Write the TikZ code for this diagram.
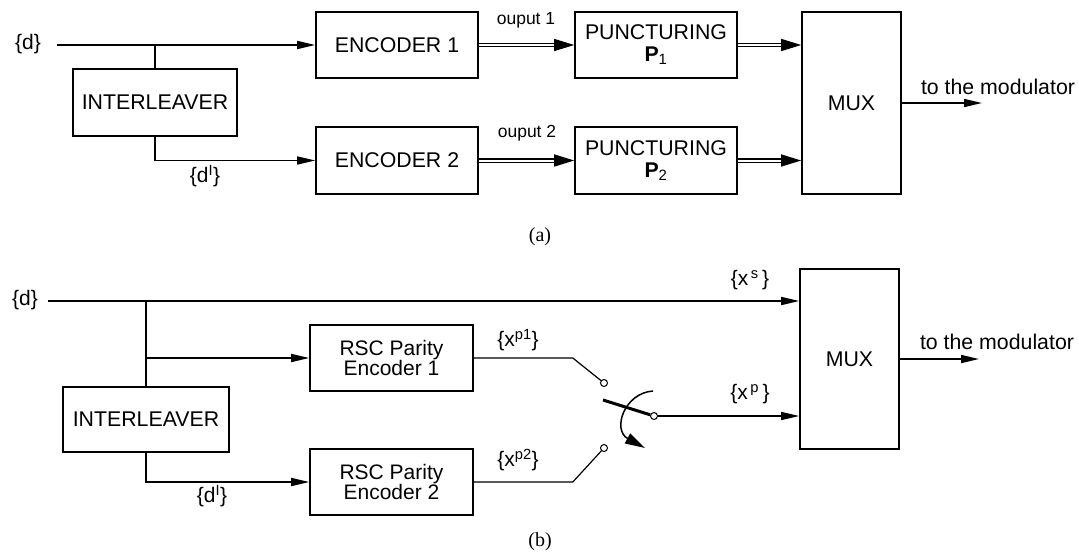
\documentclass[tikz,border=0pt]{standalone}
\usepackage{fontspec}
\setmainfont{Liberation Sans}
\newfontfamily\capfont{Liberation Serif}
\usetikzlibrary{arrows.meta,positioning}

\begin{document}
\begin{tikzpicture}[x=1pt,y=-1pt,>={Triangle[length=18pt,width=8pt]},line width=1.6pt,
    block/.style={draw,line width=1.6pt,align=center,inner sep=0pt,
                  font=\fontsize{21.3}{22}\selectfont},
    lbl/.style={inner sep=0pt,font=\fontsize{21}{22}\selectfont},
    small/.style={inner sep=0pt,font=\fontsize{17.5}{20}\selectfont},
    dbl/.style={double,double distance=2pt,line width=1.3pt,
                -{Triangle[length=20pt,width=12pt]}},
    contact/.style={circle,draw,line width=1pt,fill=white,inner sep=0pt,minimum size=7pt}]

        \useasboundingbox (0,0) rectangle (1079,552);

        % (a)
        \node[lbl] (d1) at (28,44) {\{d\}};
        \coordinate (in1) at (57,45);
        \node[block,minimum width=164pt,minimum height=67pt] (inter1) at (155,102.5) {INTERLEAVER};
        \node[block,minimum width=162pt,minimum height=66pt] (enc1) at (397,45) {ENCODER 1};
        \node[block,minimum width=162pt,minimum height=67pt] (enc2) at (397,160.5) {ENCODER 2};
        \node[block,minimum width=162pt,minimum height=66pt] (punc1) at (656,45) {PUNCTURING\\\textbf{P}\textsubscript{1}};
        \node[block,minimum width=162pt,minimum height=67pt] (punc2) at (656,160.5) {PUNCTURING\\\textbf{P}\textsubscript{2}};
        \node[block,minimum width=99pt,minimum height=182pt] (mux1) at (851.5,103) {MUX};
        \coordinate (out1) at (982,103);

        \draw[->] (in1) -- (enc1);
        \draw (inter1.north) -- (inter1.north |- in1);
        \draw[->] (inter1.south) |- (enc2.west);
        \node[lbl] (dI1) at (205,176) {\{d\textsuperscript{I}\}};
        \draw[dbl] (enc1) -- (punc1);
        \draw[dbl] (enc2) -- (punc2);
        \node[small] (o1) at (526,20) {ouput 1};
        \node[small] (o2) at (527,133) {ouput 2};
        \draw[dbl] (punc1.east) -- (punc1.east -| mux1.west);
        \draw[dbl] (punc2.east) -- (punc2.east -| mux1.west);
        \draw[->] (mux1.east) -- (out1);
        \node[block,draw=none] (mod1) at (998,87) {to the modulator};
        \node[inner sep=0pt,font=\capfont\fontsize{20}{22}\selectfont] (capa) at (540,237) {(a)};

        % (b)
        \node[lbl] (d2) at (25,300) {\{d\}};
        \coordinate (in2) at (48,301);
        \node[block,minimum width=99pt,minimum height=180pt] (mux2) at (849.5,359) {MUX};
        \node[block,minimum width=166pt,minimum height=65pt] (inter2) at (146,419.5) {INTERLEAVER};
        \node[block,minimum width=163pt,minimum height=66pt,font=\fontsize{21}{20}\selectfont] (rsc1) at (391.5,358) {RSC Parity\\Encoder 1};
        \node[block,minimum width=163pt,minimum height=66pt,font=\fontsize{21}{20}\selectfont] (rsc2) at (391.5,482) {RSC Parity\\Encoder 2};
        \coordinate (out2) at (979,359);

        \draw[->] (in2) -- (in2 -| mux2.west);
        \node[lbl] (xs) at (750,280) {\{x\textsuperscript{\,s}\,\}};
        \draw (inter2.north) -- (inter2.north |- in2);
        \draw[->] (inter2.north |- rsc1.west) -- (rsc1.west);
        \draw[->] (inter2.south) |- (rsc2.west);
        \node[lbl] (dI2) at (212,496) {\{d\textsuperscript{I}\}};

        % switch
        \node[contact] (c1) at (604,383) {};
        \node[contact] (c2) at (604,448) {};
        \node[contact] (pv) at (654,416) {};
        \draw[line width=1.2pt] (rsc1.east) -- ++(99,0) -- (c1);
        \draw[line width=1.2pt] (rsc2.east) -- ++(99,0) -- (c2);
        \node[lbl] (xp1) at (518,340) {\{x\textsuperscript{p1}\}};
        \node[lbl] (xp2) at (518,460) {\{x\textsuperscript{p2}\}};
        \draw[line width=3pt] (pv) -- ++(-51,-16);
        \draw[-{Triangle[length=20pt,width=11pt]},line width=1.5pt] (653,391) .. controls (624,393) and (612,430) .. (645,448);
        \draw[->,line width=1.3pt] (pv) -- (pv -| mux2.west);
        \node[lbl] (xp) at (750,394) {\{x\textsuperscript{\,p}\,\}};

        \draw[->] (mux2.east) -- (out2);
        \node[block,draw=none] (mod2) at (997,342) {to the modulator};
        \node[inner sep=0pt,font=\capfont\fontsize{20}{22}\selectfont] (capb) at (540,542) {(b)};
      \end{tikzpicture}
\end{document}
